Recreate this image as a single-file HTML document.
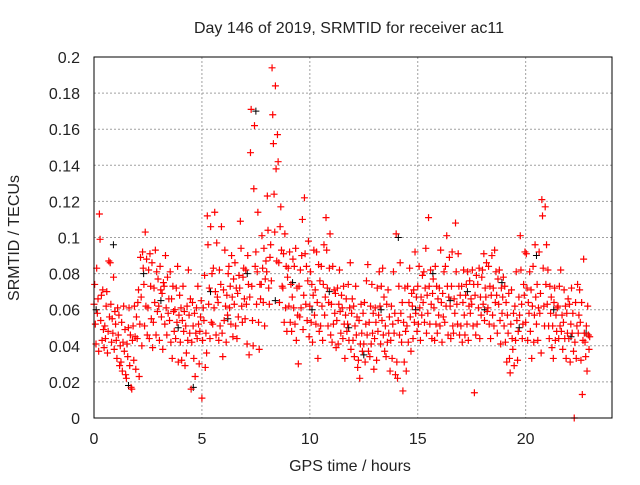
<!DOCTYPE html>
<html><head><meta charset="utf-8"><style>
body{margin:0;background:#fff}
text{font-family:"Liberation Sans",sans-serif;fill:#222}
</style></head><body>
<svg id="chart" width="640" height="480" xmlns="http://www.w3.org/2000/svg">
<rect width="640" height="480" fill="#fff"/>
<text x="349" y="33" font-size="16" text-anchor="middle">Day 146 of 2019, SRMTID for receiver ac11</text>
<text x="350" y="471" font-size="16" text-anchor="middle">GPS time / hours</text>
<text transform="translate(19,238) rotate(-90)" font-size="16" text-anchor="middle">SRMTID / TECUs</text>
<g id="grid"></g><g id="ticks"></g><g id="marks"></g>
<rect x="94" y="57" width="518" height="361" fill="none" stroke="#000" stroke-width="1"/>
</svg>
<script>
const xTicks=[0,5,10,15,20];
const yTicks=[0,0.02,0.04,0.06,0.08,0.1,0.12,0.14,0.16,0.18,0.2];
const yTickLabels=["0","0.02","0.04","0.06","0.08","0.1","0.12","0.14","0.16","0.18","0.2"];
const binStarts=[];for(let i=0;i<92;i++)binStarts.push(i*0.25);
const redValues=[
[6.3,7.4,5.2,4.1,8.3,5.8,6.6,3.7],[11.3,9.9,5.4,6.8,4.3,7.1,4.9,3.9],[5.1,4.4,6.2,7.0,3.6,4.8,8.7,5.6],[8.6,6.3,4.2,5.5,4.7,7.8,3.8,5.9],
[5.2,4.3,3.3,6.1,4.6,5.7,2.9,4.0],[3.1,5.3,2.6,4.2,6.2,3.7,4.9,2.4],[2.2,4.1,3.4,5.0,6.1,2.9,4.6,1.7],[1.6,4.3,5.1,3.2,6.2,4.5,2.7,5.6],
[4.4,6.4,7.1,2.3,5.2,8.9,6.7,4.0],[9.2,8.3,7.4,5.1,10.3,6.2,8.8,4.6],[6.1,8.2,4.4,9.1,7.3,5.5,8.6,3.9],[5.3,7.2,6.4,9.3,4.6,8.1,5.9,7.7],
[6.2,4.3,8.4,7.1,5.6,6.9,3.8,7.5],[7.3,5.2,9.0,6.1,4.6,7.8,5.8,6.6],[5.4,8.1,4.2,6.6,3.3,7.3,5.9,4.8],[6.0,4.4,7.2,5.3,8.4,3.1,5.7,6.8],
[4.2,6.1,3.2,5.4,7.3,4.8,5.9,2.9],[5.1,3.6,6.2,4.3,8.2,5.7,4.7,6.6],[1.6,4.2,6.4,5.1,3.3,5.8,2.3,4.7],[6.1,4.4,7.3,5.2,3.0,4.8,5.6,6.5],
[1.1,4.3,6.1,5.4,7.9,2.8,4.7,3.6],[11.2,9.6,6.3,7.2,4.4,10.6,5.3,8.0],[5.2,8.3,6.1,11.4,7.0,4.6,9.7,6.7],[6.4,4.3,8.2,5.1,7.4,10.6,4.7,3.4],
[7.1,5.4,9.3,6.2,4.2,6.8,5.7,8.0],[8.4,6.1,7.3,5.2,9.0,6.7,4.5,7.7],[6.3,8.6,5.1,7.2,4.4,6.9,5.6,7.9],[7.2,10.9,9.4,6.2,5.3,7.8,8.3,6.6],
[5.5,8.2,6.3,4.1,9.0,7.4,3.5,6.7],[14.7,17.1,7.3,5.4,4.0,12.7,16.2,8.4],[9.2,6.3,8.1,11.4,5.3,3.8,7.4,6.6],[7.4,10.1,8.3,6.4,9.4,5.1,7.7,8.7],
[8.1,12.3,10.4,7.2,6.3,8.9,9.6,7.6],[19.4,16.8,15.2,12.4,10.3,18.4,13.8,8.7],[15.7,14.2,8.6,6.4,10.6,11.7,9.3,7.3],[7.2,9.1,5.3,10.2,6.1,8.4,4.8,7.8],
[8.3,6.2,9.2,5.3,7.4,4.8,6.7,8.8],[6.1,8.4,5.2,9.4,4.3,7.2,5.7,3.0],[7.3,5.6,8.2,6.1,9.0,11.0,4.9,6.8],[12.2,9.1,6.3,8.4,5.4,7.6,9.8,4.5],
[6.2,8.1,5.3,7.4,4.2,6.8,9.3,5.7],[7.1,5.2,9.2,6.4,3.3,8.5,4.8,7.6],[5.1,8.4,6.2,4.3,7.4,9.6,5.7,6.7],[11.1,9.3,7.2,5.1,6.4,8.3,10.2,4.6],
[6.3,4.2,8.4,5.2,7.1,5.8,6.9,3.9],[5.4,7.2,4.1,6.3,8.2,5.9,4.7,6.8],[6.1,4.4,7.3,5.2,3.3,5.7,6.6,4.8],[5.2,7.4,4.3,6.1,8.6,3.8,5.8,6.6],
[4.3,6.2,3.4,5.1,7.3,4.6,5.6,2.8],[3.2,5.4,2.2,4.1,6.3,4.7,3.7,5.8],[4.1,6.4,3.1,5.2,7.6,4.6,8.5,3.7],[5.3,3.4,6.2,4.1,7.4,4.7,5.8,2.7],
[4.4,6.1,5.3,3.2,7.2,4.8,5.7,8.1],[6.2,4.1,7.3,5.4,8.3,4.6,6.7,3.7],[5.1,3.4,6.3,4.2,7.1,4.7,5.6,2.6],[4.3,6.2,3.3,5.2,8.1,4.7,5.8,2.4],
[10.2,3.1,2.2,5.4,7.3,4.6,8.6,5.8],[4.2,6.4,1.5,5.3,3.1,7.2,4.8,2.6],[5.1,7.3,4.2,6.4,8.3,5.6,3.7,6.9],[6.2,4.4,7.1,5.3,9.2,5.8,6.7,4.8],
[7.3,5.2,8.4,6.1,4.3,6.7,5.7,7.9],[6.4,8.1,5.3,7.2,9.4,4.7,6.8,5.8],[11.1,7.3,5.2,8.2,6.3,4.4,6.9,7.7],[6.1,4.3,8.4,5.2,7.3,4.7,6.6,5.7],
[7.2,5.1,9.3,6.4,4.2,6.9,5.6,8.1],[5.3,8.4,6.2,10.1,7.3,4.6,6.7,8.9],[6.2,4.4,7.3,9.2,5.1,4.7,6.6,5.8],[10.8,8.1,6.3,5.2,9.1,7.3,4.6,6.8],
[5.1,7.3,4.2,6.4,8.2,5.7,4.6,6.8],[7.4,5.2,8.1,4.3,6.2,7.6,5.8,6.6],[6.3,8.2,5.1,7.4,1.4,6.8,4.6,7.9],[5.2,7.4,6.1,8.3,4.4,6.7,5.7,7.8],
[8.2,6.3,9.1,5.4,7.2,6.7,8.6,5.9],[6.1,8.4,5.2,7.3,4.4,6.8,9.0,5.7],[7.2,5.1,9.3,6.4,8.1,6.8,4.7,7.7],[6.3,8.2,5.4,4.1,7.2,5.8,6.7,7.8],
[5.1,7.3,4.2,6.4,3.1,5.7,4.7,6.9],[3.3,2.5,5.2,7.1,4.4,3.8,5.8,2.9],[6.2,4.3,8.1,5.4,3.2,4.8,6.7,5.7],[10.1,8.2,6.3,4.4,5.2,7.4,6.8,9.2],
[5.3,9.1,7.2,4.3,6.4,5.8,8.1,4.8],[7.1,3.3,6.2,8.4,4.2,5.7,9.6,6.7],[5.2,7.4,4.3,6.1,9.2,5.8,6.9,3.6],[12.1,11.2,8.3,6.2,5.1,11.7,7.4,9.6],
[6.3,8.2,5.1,4.4,7.3,5.8,6.7,3.9],[5.1,3.3,6.4,7.2,4.3,5.7,4.8,6.1],[6.2,4.4,7.3,5.1,8.2,4.8,5.7,3.8],[5.3,7.1,4.4,6.2,3.3,5.8,4.7,6.6],
[4.4,6.3,3.1,5.2,7.2,4.7,5.8,3.7],[0,4.2,6.4,3.3,5.1,7.4,4.7,5.7],[7.1,5.3,3.2,6.4,1.3,4.3,8.8,4.7],[4.2,3.4,5.1,2.6,6.2,4.6,3.8,4.5]];
const blackTimes=[0.1,0.9,1.6,2.3,3.1,3.9,4.6,5.4,6.2,7.1,7.5,8.4,9.2,10.1,10.9,11.8,12.5,13.3,14.1,14.9,15.7,16.5,17.3,18.1,18.9,19.7,20.5,21.3,22.1,22.8];
const blackValues=[0.06,0.096,0.018,0.08,0.065,0.05,0.017,0.07,0.055,0.08,0.17,0.065,0.075,0.06,0.07,0.05,0.035,0.06,0.1,0.06,0.08,0.065,0.07,0.06,0.075,0.05,0.09,0.06,0.045,0.047];
const X=t=>94+t*(518/24);
const Y=v=>418-v*(361/0.2);
const NS="http://www.w3.org/2000/svg";
const grid=document.getElementById('grid'),ticks=document.getElementById('ticks'),marks=document.getElementById('marks');
function mk(tag,attrs,parent){const e=document.createElementNS(NS,tag);for(const k in attrs)e.setAttribute(k,attrs[k]);parent.appendChild(e);return e;}
xTicks.forEach(t=>{
 if(t>0){const g=mk('line',{x1:X(t),x2:X(t),y1:57,y2:418,stroke:'#a0a0a0','stroke-dasharray':'2,2'},grid);
 
 }
 const l=mk('text',{x:X(t),y:444,'font-size':16,'text-anchor':'middle'},ticks);l.textContent=t;
 
 
});
yTicks.forEach((v,i)=>{
 if(v>0&&v<0.2){const g=mk('line',{x1:94,x2:612,y1:Y(v),y2:Y(v),stroke:'#a0a0a0','stroke-dasharray':'2,2'},grid);
 
 }
 const l=mk('text',{x:80,y:Y(v)+6,'font-size':16,'text-anchor':'end'},ticks);l.textContent=yTickLabels[i];
 
 
});
let dr='';
redValues.forEach((row,i)=>row.forEach((v,j)=>{const x=X(binStarts[i]+j*0.031),y=Y(v/100);dr+=`M${x-3.5},${y}h7M${x},${y-3.5}v7`;}));
let db='';
blackTimes.forEach((t,i)=>{const x=X(t),y=Y(blackValues[i]);db+=`M${x-3.5},${y}h7M${x},${y-3.5}v7`;});
const pb=mk('path',{d:db,stroke:'#000','stroke-width':1,fill:'none'},marks);


const pr=mk('path',{d:dr,stroke:'#ff0000','stroke-width':1.2,fill:'none'},marks);


</script>
</body></html>
